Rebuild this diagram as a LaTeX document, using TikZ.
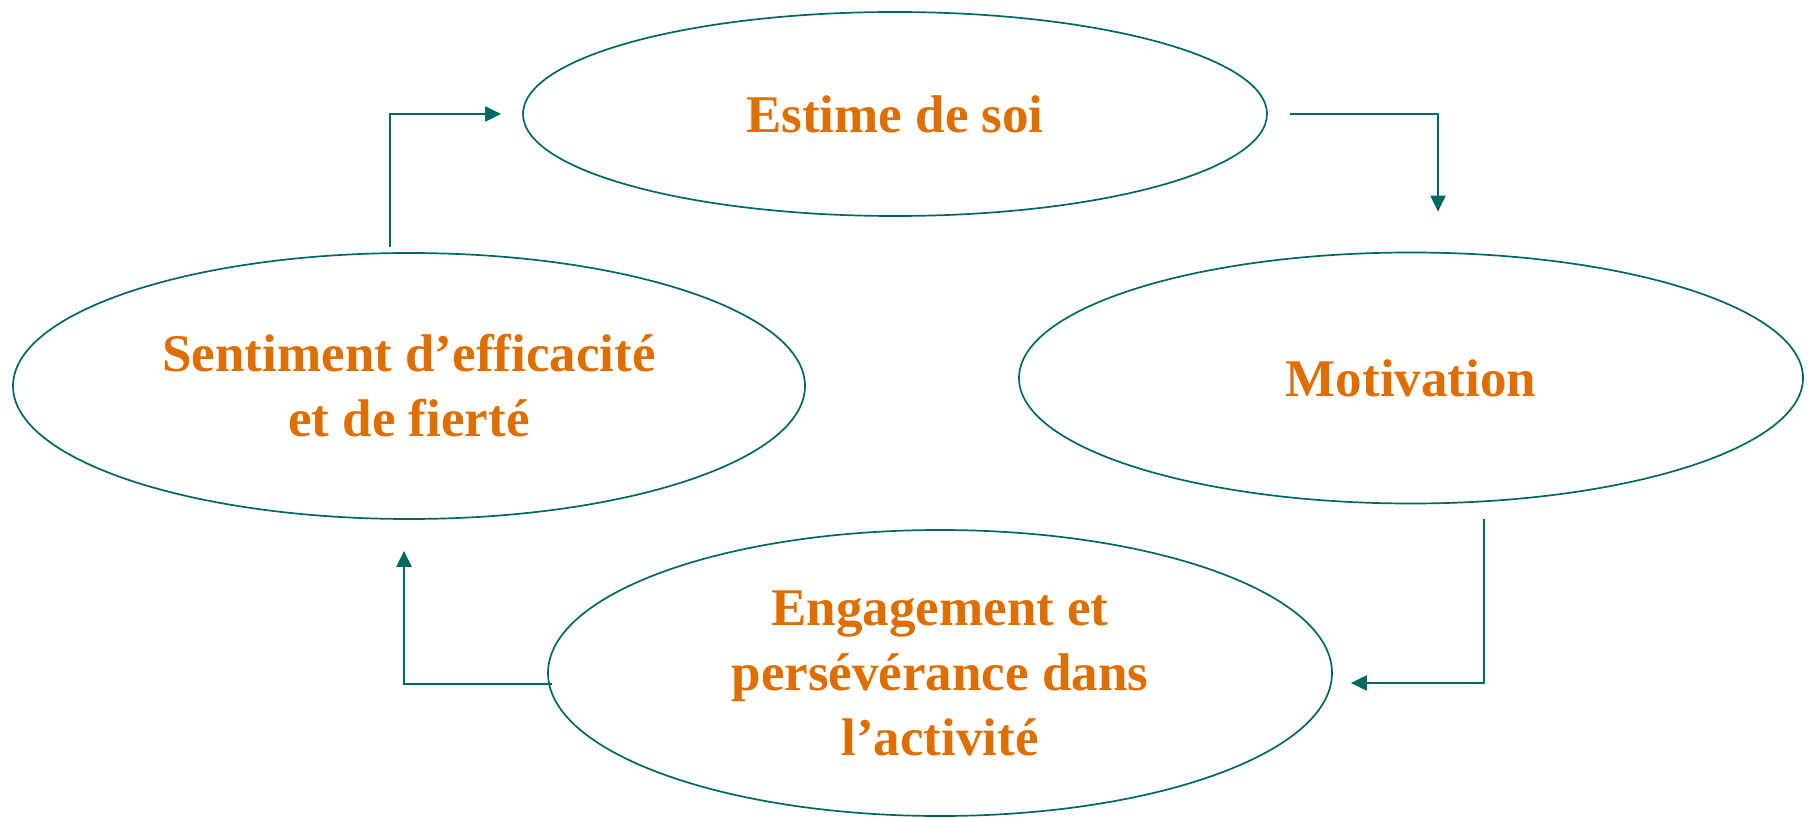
\documentclass[tikz,border=0pt]{standalone}
\usepackage{fontspec}
\setmainfont{Liberation Serif}
\usetikzlibrary{calc,arrows.meta,shapes.geometric}
\definecolor{tealline}{RGB}{0,104,100}
\definecolor{orng}{RGB}{222,110,0}
\tikzset{
  bubble/.style={draw=tealline, line width=1.7pt, ellipse, inner sep=0pt, align=center,
    text=orng, font=\bfseries\fontsize{53}{65}\selectfont},
  arr/.style={draw=tealline, line width=2pt, -{Triangle[length=16pt,width=15pt]}}
}
\begin{document}
\begin{tikzpicture}[x=1pt,y=-1pt]
\useasboundingbox (0,0) rectangle (1811,818);
\node[bubble, minimum width=744pt, minimum height=204pt] (est) at (895,114) {Estime de soi};
\node[bubble, minimum width=784pt, minimum height=251pt] (mot) at (1411,378) {Motivation};
\node[bubble, minimum width=792pt, minimum height=266pt] (sent) at (409,386) {Sentiment d’efficacité\\et de fierté};
\node[bubble, minimum width=784pt, minimum height=286pt] (eng) at (940,673) {Engagement et\\persévérance dans\\l’activité};
\draw[arr] ($(sent.north)+(-19,-5)$) |- ($(est.west)+(-21,0)$);
\draw[arr] ($(est.east)+(22,0)$) -| ($(mot.north)+(27,-40)$);
\draw[arr] ($(mot.south)+(73,15)$) |- ($(eng.east)+(18,10)$);
\draw[arr] ($(eng.west)+(5,11)$) -| ($(sent.south)+(-5,31)$);
\end{tikzpicture}
\end{document}
